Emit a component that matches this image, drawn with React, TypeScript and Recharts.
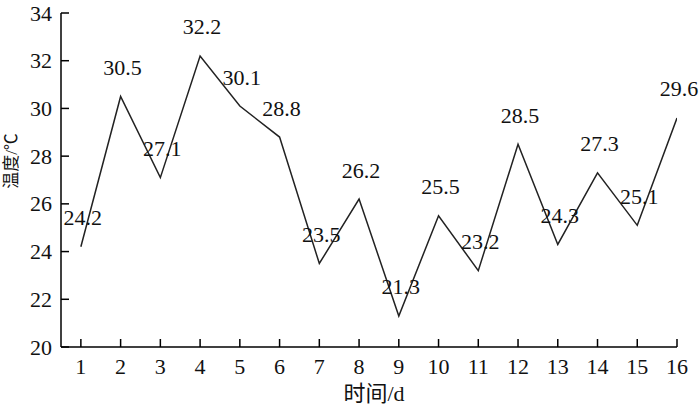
import { LineChart, Line, XAxis, YAxis, LabelList, Label } from "recharts";

const days = [1, 2, 3, 4, 5, 6, 7, 8, 9, 10, 11, 12, 13, 14, 15, 16];
const temps = [24.2, 30.5, 27.1, 32.2, 30.1, 28.8, 23.5, 26.2, 21.3, 25.5, 23.2, 28.5, 24.3, 27.3, 25.1, 29.6];
const yTicks = [20, 22, 24, 26, 28, 30, 32, 34];

const data = days.map((d, i) => ({ day: d, temp: temps[i] }));

const FONT = "'Liberation Serif', 'Times New Roman', 'Noto Sans CJK SC', serif";
const FS = 22;

// ticks point inward, so draw line + text ourselves
// eslint-disable-next-line @typescript-eslint/no-explicit-any
const XTick = (props: any) => {
  const { x, y, payload } = props;
  return (
    <g>
      <line x1={x} x2={x} y1={y} y2={y - 8} stroke="#000" strokeWidth={1.5} />
      <text x={x} y={y + 27} textAnchor="middle" fill="#111" fontSize={FS} fontFamily={FONT}>
        {payload.value}
      </text>
    </g>
  );
};

// eslint-disable-next-line @typescript-eslint/no-explicit-any
const YTick = (props: any) => {
  const { x, y, payload } = props;
  return (
    <g>
      <line x1={x} x2={x + 8} y1={y} y2={y} stroke="#000" strokeWidth={1.5} />
      <text x={x - 9} y={y + 7.5} textAnchor="end" fill="#111" fontSize={FS} fontFamily={FONT}>
        {payload.value}
      </text>
    </g>
  );
};

// value label above each point
// eslint-disable-next-line @typescript-eslint/no-explicit-any
const PointLabel = (props: any) => {
  const { x, y, value } = props;
  return (
    <text x={x + 2} y={y - 21.5} textAnchor="middle" fill="#111" fontSize={FS} fontFamily={FONT}>
      {value}
    </text>
  );
};

export default function App() {
  return (
    <div style={{ position: "absolute", left: 0, top: 0, width: 700, height: 407, background: "#fff" }}>
      <LineChart width={700} height={407} data={data} margin={{ top: 13, right: 23, left: 0, bottom: 0 }}>
        <XAxis
          dataKey="day"
          type="number"
          domain={[0.5, 16]}
          ticks={days}
          allowDataOverflow
          height={60}
          tickSize={0}
          tickMargin={0}
          tickLine={false}
          tick={<XTick />}
          axisLine={{ stroke: "#000", strokeWidth: 1.5 }}
        >
          <Label value="时间/d" position="center" dx={5} dy={16} fill="#111" fontSize={FS} fontFamily={FONT} />
        </XAxis>
        <YAxis
          domain={[20, 34]}
          ticks={yTicks}
          width={61}
          tickSize={0}
          tickMargin={0}
          tickLine={false}
          tick={<YTick />}
          axisLine={{ stroke: "#000", strokeWidth: 1.5 }}
        >
          <Label value="温度/℃" position="center" angle={-90} dx={-20} dy={-19} fill="#111" fontSize={17} fontFamily={FONT} />
        </YAxis>
        <Line
          dataKey="temp"
          type="linear"
          stroke="#222"
          strokeWidth={1.5}
          dot={false}
          isAnimationActive={false}
        >
          <LabelList dataKey="temp" content={<PointLabel />} />
        </Line>
      </LineChart>
    </div>
  );
}
